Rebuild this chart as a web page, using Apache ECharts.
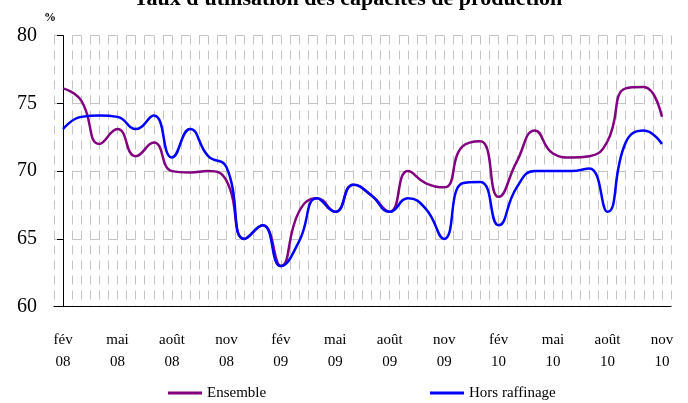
<!DOCTYPE html>
<html>
<head>
<meta charset="utf-8">
<script src="https://cdn.jsdelivr.net/npm/echarts@6/dist/echarts.min.js"></script>
<style>
  html, body { margin: 0; padding: 0; background: #fff; }
  #chart { width: 688px; height: 403px; }
</style>
</head>
<body>
<div id="chart"></div>
<script>
const months = [
  "fév\n08", "mars\n08", "avr\n08", "mai\n08", "juin\n08", "juil\n08", "août\n08", "sept\n08", "oct\n08", "nov\n08", "déc\n08",
  "janv\n09", "fév\n09", "mars\n09", "avr\n09", "mai\n09", "juin\n09", "juil\n09", "août\n09", "sept\n09", "oct\n09", "nov\n09", "déc\n09",
  "janv\n10", "fév\n10", "mars\n10", "avr\n10", "mai\n10", "juin\n10", "juil\n10", "août\n10", "sept\n10", "oct\n10", "nov\n10",
];

const ensemble = [
  76.1, 75.2, 72.0, 73.1, 71.1, 72.1, 70.0, 69.9, 70.0, 69.3, 65.0,
  66.0, 63.0, 67.0, 68.0, 67.0, 69.0, 68.2, 67.0, 70.0, 69.1, 68.8, 71.8,
  72.2, 68.1, 70.7, 73.0, 71.3, 71.0, 71.1, 72.2, 76.1, 76.2, 74.0,
];

const horsRaffinage = [
  73.1, 74.0, 74.1, 74.0, 73.1, 74.1, 71.0, 73.1, 71.1, 70.3, 65.0,
  66.0, 63.0, 64.8, 68.0, 67.0, 69.0, 68.2, 67.0, 68.0, 67.2, 65.0, 69.1,
  69.2, 66.0, 68.8, 70.0, 70.0, 70.0, 70.2, 67.0, 72.1, 73.0, 72.0,
];

const serif = "Liberation Serif";
const gridColor = "#c4c4c4";

const chart = echarts.init(document.getElementById("chart"));

chart.setOption({
  animation: false,
  backgroundColor: "#fff",
  graphic: [
    {
      type: "text",
      x: 348,
      y: 10,
      style: {
        text: "Taux d'utilisation des capacités de production",
        font: `bold 22px "${serif}"`,
        fill: "#000",
        textAlign: "center",
        textVerticalAlign: "bottom",
      },
    },
    {
      type: "text",
      x: 44,
      y: 12,
      style: { text: "%", font: `bold 12px "${serif}"`, fill: "#000" },
    },
  ],
  grid: { left: 54, right: 17, top: 35.5, bottom: 96.3 },
  xAxis: [
    {
      type: "category",
      data: months,
      boundaryGap: true,
      axisLine: { lineStyle: { color: "#000", width: 1 } },
      axisTick: { interval: 0, length: 6, lineStyle: { color: "#000" } },
      axisLabel: {
        interval: 2,
        color: "#000",
        fontFamily: serif,
        fontSize: 15,
        lineHeight: 22,
        margin: 22,
      },
      splitLine: { show: false },
    },
    {
      // only used for the dashed vertical grid (ticks + mid-months)
      type: "value",
      min: -0.5,
      max: 33.5,
      interval: 0.5,
      axisLine: { show: false },
      axisTick: { show: false },
      axisLabel: { show: false },
      splitLine: { show: true, lineStyle: { color: gridColor, width: 1, type: [9, 6] } },
    },
  ],
  yAxis: {
    type: "value",
    min: 60,
    max: 80,
    interval: 5,
    axisLine: { show: true, lineStyle: { color: "#000", width: 1 } },
    axisTick: { show: true, length: 6, lineStyle: { color: "#000" } },
    axisLabel: { color: "#000", fontFamily: serif, fontSize: 20, margin: 17 },
    splitLine: { show: true, lineStyle: { color: gridColor, width: 1, type: [9.07, 9.07] } },
  },
  legend: [
    {
      data: ["Ensemble"],
      left: 168,
      top: 385,
      padding: 0,
      icon: "rect",
      itemWidth: 34,
      itemHeight: 3,
      textStyle: { color: "#000", fontFamily: serif, fontSize: 15, lineHeight: 16 },
    },
    {
      data: ["Hors raffinage"],
      left: 430,
      top: 385,
      padding: 0,
      icon: "rect",
      itemWidth: 34,
      itemHeight: 3,
      textStyle: { color: "#000", fontFamily: serif, fontSize: 15, lineHeight: 16 },
    },
  ],
  series: [
    {
      name: "Ensemble",
      type: "line",
      xAxisIndex: 0,
      data: ensemble,
      smooth: 0.5,
      showSymbol: false,
      color: "#800080",
      lineStyle: { width: 2.5, color: "#800080" },
    },
    {
      name: "Hors raffinage",
      type: "line",
      xAxisIndex: 0,
      data: horsRaffinage,
      smooth: 0.5,
      showSymbol: false,
      color: "#0000ff",
      lineStyle: { width: 2.5, color: "#0000ff" },
    },
  ],
});
</script>
</body>
</html>
